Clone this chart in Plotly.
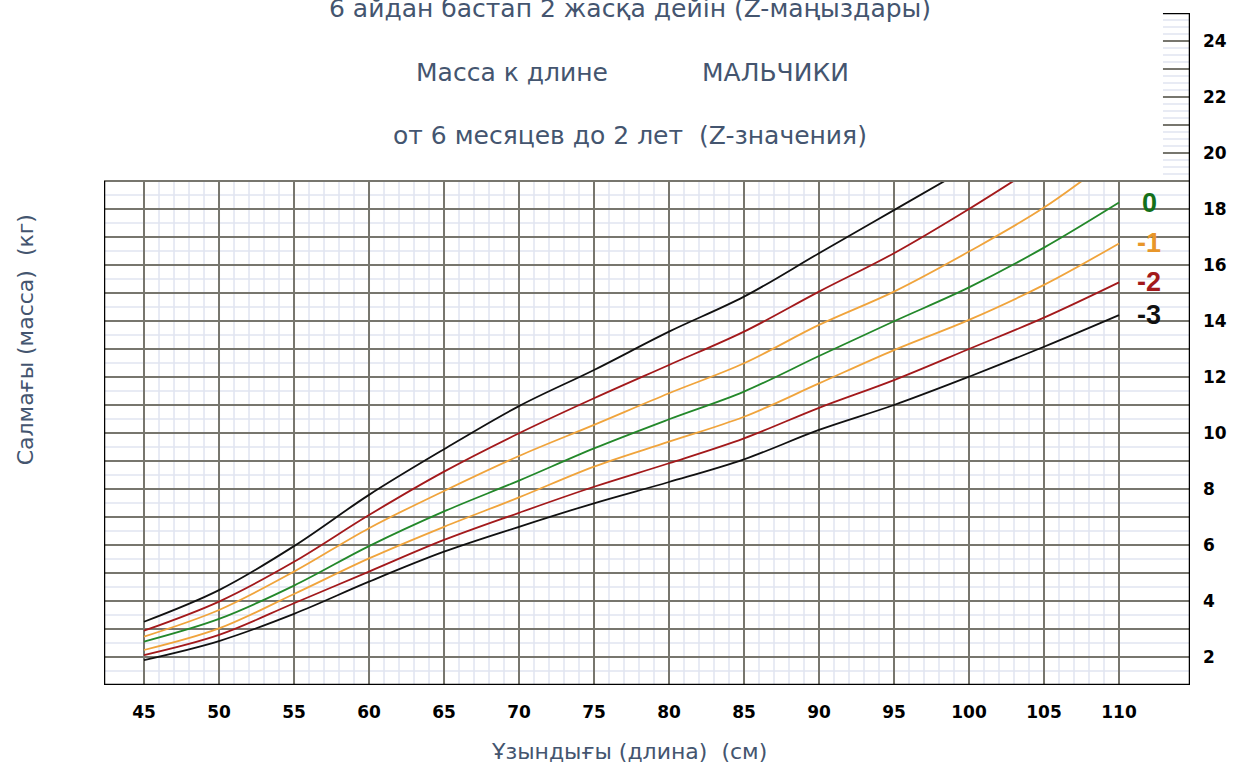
import plotly.graph_objects as go

# Weight-for-length, boys: length (cm) and weight (kg) for each Z-score line
length_cm = [45, 50, 55, 60, 65, 70, 75, 80, 85, 90, 95, 100, 105, 110]
z_pos3 = [3.26, 4.39, 5.96, 7.79, 9.42, 10.96, 12.25, 13.62, 14.87, 16.42, 17.96, 19.50, None, None]
z_pos2 = [2.94, 3.98, 5.40, 7.07, 8.62, 9.99, 11.24, 12.43, 13.62, 15.05, 16.42, 18.00, 19.70, None]
z_pos1 = [2.73, 3.68, 5.05, 6.60, 7.93, 9.18, 10.29, 11.42, 12.49, 13.86, 15.05, 16.48, 18.05, 20.00]
z_zero = [2.55, 3.36, 4.55, 5.96, 7.20, 8.30, 9.45, 10.49, 11.48, 12.75, 13.99, 15.20, 16.62, 18.23]
z_neg1 = [2.25, 3.02, 4.25, 5.52, 6.65, 7.70, 8.80, 9.69, 10.58, 11.77, 12.96, 14.04, 15.29, 16.77]
z_neg2 = [2.07, 2.79, 3.92, 5.05, 6.18, 7.15, 8.08, 8.92, 9.81, 10.90, 11.89, 13.00, 14.12, 15.38]
z_neg3 = [1.89, 2.57, 3.54, 4.69, 5.76, 6.65, 7.49, 8.25, 9.06, 10.11, 11.00, 12.01, 13.08, 14.21]

x_ticks = list(range(45, 111, 5))
y_ticks = list(range(2, 25, 2))

BLACK = "#111111"
RED = "#a3191b"
ORANGE = "#f0a43c"
GREEN = "#23882a"
TITLE_COLOR = "#44556f"

# (label shown at the right end, values, colour)
series = [
    (None, z_pos3, BLACK),
    (None, z_pos2, RED),
    (None, z_pos1, ORANGE),
    ("0", z_zero, GREEN),
    ("-1", z_neg1, ORANGE),
    ("-2", z_neg2, RED),
    ("-3", z_neg3, BLACK),
]
label_colors = {"0": "#14701a", "-1": "#e8962a", "-2": "#a3191b", "-3": BLACK}

X_LO, X_HI = 42.333, 114.733
Y_LO, Y_HI = 1, 25
GRID_TOP = 19
TICK_X0 = 112.93  # left end of the short scale ticks above the grid

fig = go.Figure()
for name, vals, color in series:
    fig.add_trace(go.Scatter(
        x=length_cm, y=vals, mode="lines",
        line=dict(color=color, width=1.8, shape="spline", smoothing=1.0),
        hoverinfo="skip", connectgaps=False,
    ))

shapes = []
MAJOR = "#77766e"
MINOR = "#e0e4f1"

# light 1 cm verticals between 45 and 110
for v in range(45, 111):
    if v % 5:
        shapes.append(dict(type="line", xref="x", yref="y", x0=v, x1=v, y0=Y_LO, y1=GRID_TOP,
                           line=dict(color=MINOR, width=1.5), layer="below"))
# light half-kilogram horizontals
for k in range(Y_LO, GRID_TOP):
    shapes.append(dict(type="line", xref="x", yref="y", x0=X_LO, x1=X_HI, y0=k + 0.5, y1=k + 0.5,
                       line=dict(color=MINOR, width=1.5), layer="below"))
# dark 5 cm verticals
for v in x_ticks:
    shapes.append(dict(type="line", xref="x", yref="y", x0=v, x1=v, y0=Y_LO, y1=GRID_TOP,
                       line=dict(color=MAJOR, width=2), layer="below"))
# dark 1 kg horizontals
for k in range(Y_LO + 1, GRID_TOP):
    shapes.append(dict(type="line", xref="x", yref="y", x0=X_LO, x1=X_HI, y0=k, y1=k,
                       line=dict(color=MAJOR, width=2), layer="below"))

# blank band above the grid (curves stop at the grid top)
shapes.append(dict(type="rect", xref="x", yref="y", x0=X_LO - 1, x1=X_HI, y0=GRID_TOP, y1=Y_HI + 1,
                   fillcolor="white", line=dict(width=0), layer="above"))
# short scale ticks on the right above the grid
k = GRID_TOP + 0.25
while k < Y_HI:
    if abs(k - round(k)) > 1e-6:
        shapes.append(dict(type="line", xref="x", yref="y", x0=TICK_X0, x1=X_HI, y0=k, y1=k,
                           line=dict(color=MINOR, width=1.5), layer="above"))
    k += 0.25
for k in range(GRID_TOP + 1, Y_HI):
    shapes.append(dict(type="line", xref="x", yref="y", x0=TICK_X0, x1=X_HI, y0=k, y1=k,
                       line=dict(color=MAJOR, width=2), layer="above"))
# grid top
shapes.append(dict(type="line", xref="x", yref="y", x0=X_LO, x1=X_HI, y0=GRID_TOP, y1=GRID_TOP,
                   line=dict(color=MAJOR, width=2), layer="above"))
# frame: left, bottom, right, top cap of the scale
shapes.append(dict(type="line", xref="x", yref="y", x0=X_LO, x1=X_LO, y0=Y_LO, y1=GRID_TOP,
                   line=dict(color="black", width=2.5), layer="above"))
shapes.append(dict(type="line", xref="x", yref="y", x0=X_LO, x1=X_HI, y0=Y_LO, y1=Y_LO,
                   line=dict(color="black", width=2.5), layer="above"))
shapes.append(dict(type="line", xref="x", yref="y", x0=X_HI, x1=X_HI, y0=Y_LO, y1=Y_HI,
                   line=dict(color="black", width=2.5), layer="above"))
shapes.append(dict(type="line", xref="x", yref="y", x0=TICK_X0, x1=X_HI, y0=Y_HI, y1=Y_HI,
                   line=dict(color="black", width=2.5), layer="above"))

annotations = []
# Z-score labels at the right end of each line
for name, vals, color in series:
    if name is None:
        continue
    annotations.append(dict(x=112.0, y=vals[-1], xref="x", yref="y", text=f"<b>{name}</b>",
                            showarrow=False, xanchor="center", yanchor="middle",
                            font=dict(family="Liberation Sans", size=27, color=label_colors[name])))

title_font = dict(family="DejaVu Sans", size=25, color=TITLE_COLOR)
axis_title_font = dict(family="DejaVu Sans", size=22, color=TITLE_COLOR)
annotations += [
    dict(x=0.4843, y=1.0060, xref="paper", yref="paper", showarrow=False, yanchor="middle",
         text="6 айдан бастап 2 жасқа дейін (Z-маңыздары)", font=title_font),
    dict(x=0.3757, y=0.912, xref="paper", yref="paper", showarrow=False, yanchor="middle",
         text="Масса к длине", font=title_font),
    dict(x=0.6179, y=0.912, xref="paper", yref="paper", showarrow=False, yanchor="middle",
         text="МАЛЬЧИКИ", font=title_font),
    dict(x=0.4843, y=0.817, xref="paper", yref="paper", showarrow=False, yanchor="middle",
         text="от 6 месяцев до 2 лет  (Z-значения)", font=title_font),
    dict(x=0.4834, y=-0.0997, xref="paper", yref="paper", showarrow=False, yanchor="middle",
         text="Ұзындығы (длина)  (см)", font=axis_title_font),
    dict(x=-0.0727, y=0.513, xref="paper", yref="paper", showarrow=False, textangle=-90,
         xanchor="center", yanchor="middle",
         text="Салмағы (масса)  (кг)", font=axis_title_font),
]

tick_font = dict(family="DejaVu Sans", size=17, color="black", weight="bold")
fig.update_layout(
    width=1233, height=771,
    margin=dict(l=104, r=43, t=13, b=86, autoexpand=False),
    plot_bgcolor="white", paper_bgcolor="white",
    showlegend=False,
    shapes=shapes, annotations=annotations,
    xaxis=dict(range=[X_LO, X_HI], tickvals=x_ticks, ticktext=[str(v) for v in x_ticks],
               showgrid=False, zeroline=False, showline=False, ticks="", automargin=False,
               tickfont=tick_font, ticklabelstandoff=15, fixedrange=True),
    yaxis=dict(range=[Y_LO, Y_HI], side="right", tickvals=y_ticks, ticktext=[str(v) for v in y_ticks],
               showgrid=False, zeroline=False, showline=False, ticks="", automargin=False,
               tickfont=tick_font, ticklabelstandoff=12, fixedrange=True),
)

fig.write_html("out.html")
